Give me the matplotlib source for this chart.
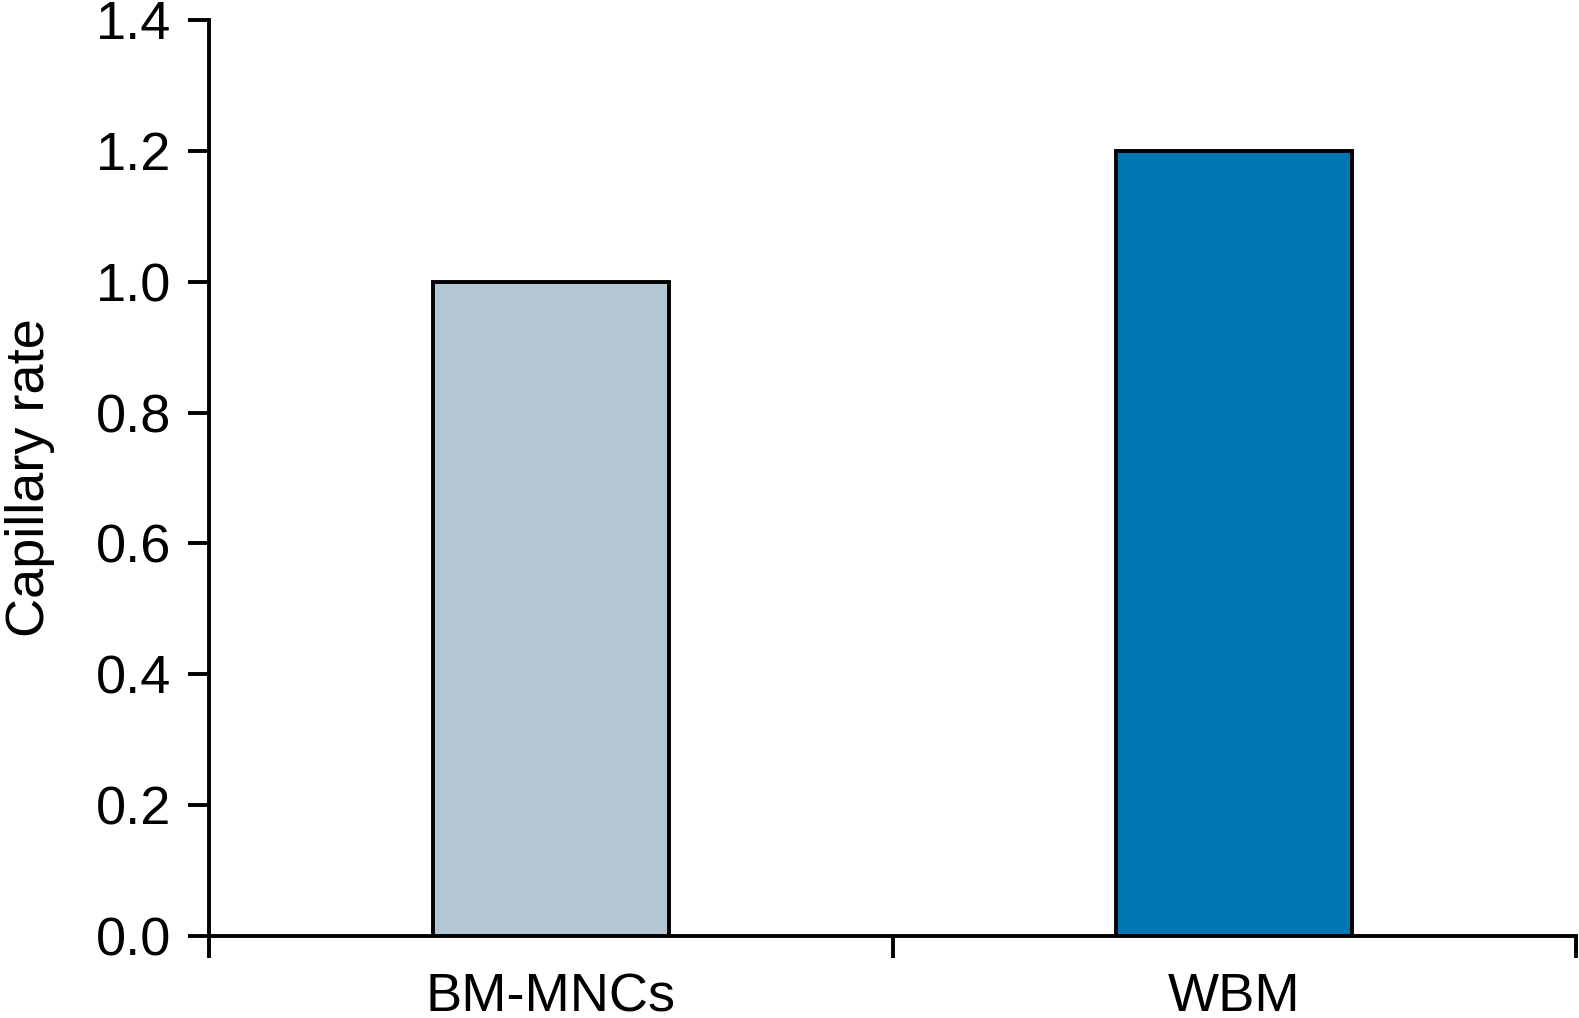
import numpy as np
import matplotlib.pyplot as plt

# Capillary rate per treatment group
groups = ['BM-MNCs', 'WBM']
rates = [1.0, 1.2]
bar_colors = ['#b3c6d3', '#0077b3']

plt.rcParams['font.family'] = ['Liberation Sans', 'DejaVu Sans']

fig = plt.figure(figsize=(15.79, 10.18), dpi=100)
ax = fig.add_axes([0.1325, 0.0806, 0.8655, 0.8998])

x = np.arange(len(groups)) + 0.5
ax.bar(x, rates, width=0.345, color=bar_colors, edgecolor='black', linewidth=2.8, zorder=3)

ax.set_xlim(0, len(groups))
ax.set_ylim(0, 1.4)
ax.set_yticks(np.arange(0, 1.41, 0.2))
ax.set_yticklabels([f'{v:.1f}' for v in np.arange(0, 1.41, 0.2)], fontsize=39)

# ticks at category boundaries, labels at centers
ax.set_xticks(np.arange(len(groups) + 1))
ax.set_xticklabels([])
ax.set_xticks(x, minor=True)
ax.set_xticklabels(groups, minor=True, fontsize=39)
ax.tick_params(axis='x', which='minor', length=0, pad=26)
ax.tick_params(axis='x', which='major', length=16, width=2.8, direction='out')
ax.tick_params(axis='y', length=15, width=2.8, direction='out', pad=12)

ax.set_ylabel('Capillary rate', fontsize=39, labelpad=30)

for side in ['top', 'right']:
    ax.spines[side].set_visible(False)
for side in ['left', 'bottom']:
    ax.spines[side].set_linewidth(2.8)

fig.savefig('out.png', dpi=100)
